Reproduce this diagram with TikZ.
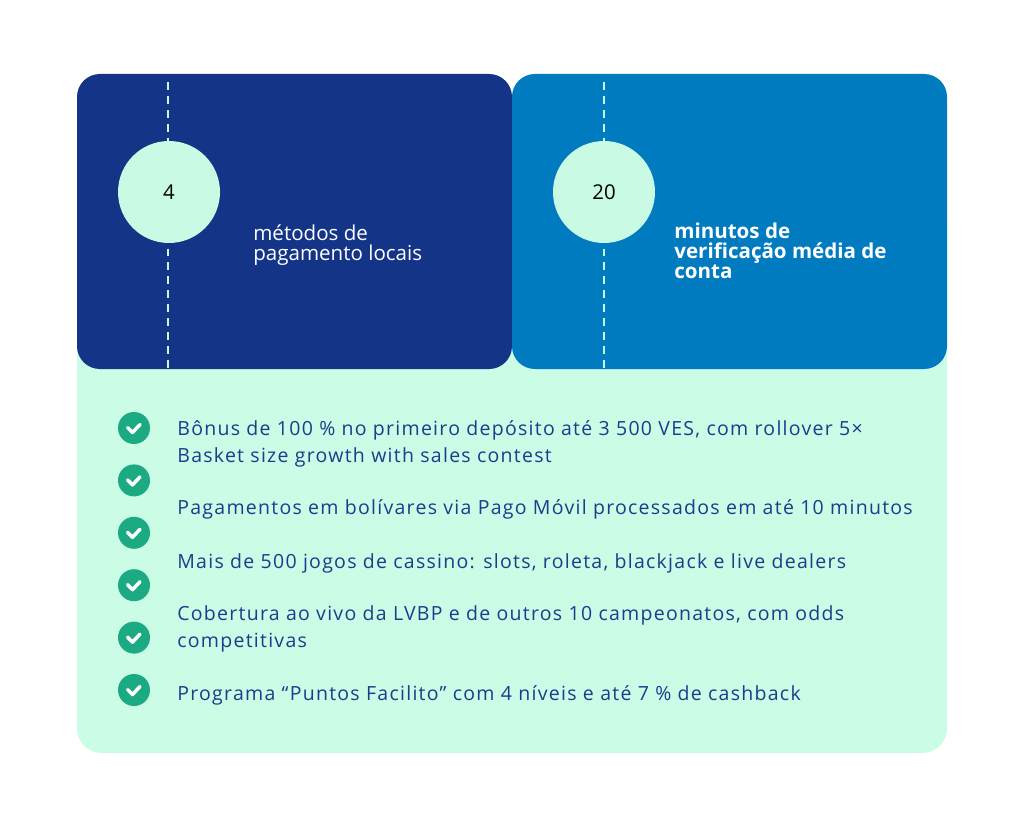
\documentclass[tikz,border=0pt]{standalone}
\usepackage{fontspec}
\setmainfont{Open Sans}
\newfontfamily\listfont[LetterSpace=6.5]{Open Sans}
\usetikzlibrary{positioning}

\definecolor{navybox}{RGB}{20,52,135}
\definecolor{bluebox}{RGB}{0,123,192}
\definecolor{mintbg}{RGB}{202,252,230}
\definecolor{mintdot}{RGB}{200,250,228}
\definecolor{checkgreen}{RGB}{27,170,130}
\definecolor{listblue}{RGB}{28,60,140}

\begin{document}
\begin{tikzpicture}[x=0.02cm,y=-0.02cm,
  numdot/.style={circle,fill=mintdot,minimum size=2.04cm,inner sep=0pt,text=black,font=\fontsize{11.6}{12}\selectfont},
  dashline/.style={draw=mintdot,line width=1.1pt,dash pattern=on 4.5pt off 3.4pt},
  toptext/.style={anchor=base west,inner sep=0pt,text=white,align=left},
  checkdot/.style={circle,fill=checkgreen,minimum size=0.64cm,inner sep=0pt},
  item/.style={anchor=base west,inner sep=0pt,text=listblue,align=left,font=\listfont\fontsize{11.1}{15}\selectfont}]
\useasboundingbox (0,0) rectangle (1024,828);
% panels
\fill[mintbg,rounded corners=14pt] (77,200) rectangle (947,753);
\fill[navybox,rounded corners=13pt] (77,74) rectangle (512,369);
\fill[bluebox,rounded corners=13pt] (512,74) rectangle (947,369);
\foreach \x in {168,604}
    \draw[dashline] (\x,82) -- (\x,369);
% figures (base = last line)
\node[numdot] (four) at (169,192) {4};
\node[numdot] (twenty) at (604,192) {20};
\node[toptext,font=\fontsize{11.7}{11.3}\selectfont] (methods) at (253,260) {métodos de\\pagamento locais};
\node[toptext,font=\bfseries\fontsize{11.7}{11.3}\selectfont] (minutes) at (674,278) {minutos de\\verificação média de\\conta};
% checklist
\foreach \i in {0,...,5}
    {
    \node[checkdot] (chk\i) at (134,{428+52.4*\i}) {};
    \draw[white,line width=2pt,line cap=round,line join=round] (127.5,{427.5+52.4*\i}) -- ++(5,5) -- ++(7.5,-8);
    }
\node[item] (bonus) at (177,462) {Bônus de 100 \% no primeiro depósito até 3 500 VES, com rollover 5×\\Basket size growth with sales contest};
\node[item] (pay) at (177,514) {Pagamentos em bolívares via Pago Móvil processados em até 10 minutos};
\node[item] (games) at (177,568) {Mais de 500 jogos de cassino: slots, roleta, blackjack e live dealers};
\node[item] (sport) at (177,647) {Cobertura ao vivo da LVBP e de outros 10 campeonatos, com odds\\competitivas};
\node[item] (club) at (177,700) {Programa “Puntos Facilito” com 4 níveis e até 7 \% de cashback};
\end{tikzpicture}
\end{document}
